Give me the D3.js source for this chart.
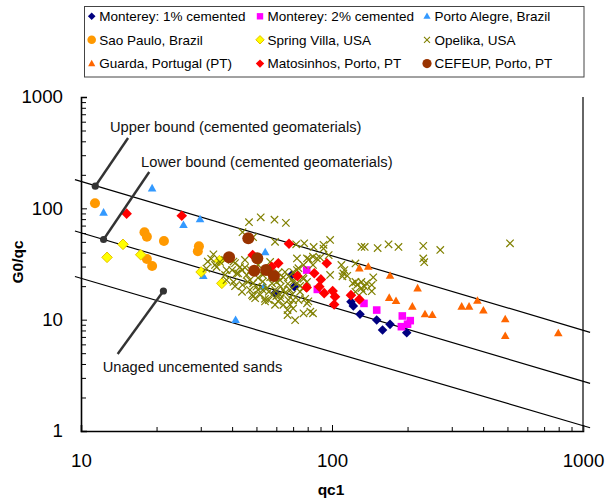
<!DOCTYPE html>
<html><head><meta charset="utf-8">
<script src="https://cdn.jsdelivr.net/npm/d3@7"></script>
<style>
body{margin:0;background:#fff;}
svg{font-family:"Liberation Sans",Arial,sans-serif;}
</style></head>
<body><svg id="c" width="606" height="501"></svg>
<script>
// ---- data ----
const xTicks = [10, 100, 1000];
const yTicks = [1, 10, 100, 1000];
const seriesNames = ["Monterey: 1% cemented","Monterey: 2% cemented","Porto Alegre, Brazil",
  "Sao Paulo, Brazil","Spring Villa, USA","Opelika, USA",
  "Guarda, Portugal (PT)","Matosinhos, Porto, PT","CEFEUP, Porto, PT"];
const monterey1 = [[69.1,25.2],[70.8,19.8],[59.3,17.3],[119,14.5],[121.6,13.3],[129.3,11.2],[150.7,9.93],[159,8.07],[170.3,9.08],[198.5,7.64]];
const monterey2 = [[79.3,27.9],[87.4,18.7],[134.1,14.0],[150.7,12.2],[190.6,10.8],[205,9.8],[189,8.65],[200,9.1]];
const portoAlegre = [[12.3,91.5],[19.2,151],[25.6,70.8],[29.8,79.7],[30.7,24.7],[41.3,9.93],[54.2,40.3],[53.6,19.8]];
const saoPaulo = [[11.37,111],[17.9,61],[18.3,55.6],[21.4,50.9],[18.3,35.1],[19.2,30.3],[29.5,45.6],[29.2,41.1]];
const springVilla = [[12.7,36.3],[14.7,47.5],[17.3,38.3],[35.6,33.9],[30.1,26.8],[36.4,21.2]];
const opelika = [[46.7,75],[52,83],[59,79],[65.5,74],[44,61],[48.5,55],[59.3,50],[72,47.5],[77.5,48.5],[84.5,45],[92.5,47],[98.3,52],[92.5,43.5],[131,45],[135,45],[152,44],[168,47.5],[184,45],[231,46],[270,42.3],[231,35.5],[233,32.8],[512,48.5],[72.5,35.5],[79.5,35.5],[84,36.8],[89.7,36],[97,38],[109,31],[111,26],[110,24.5],[98.3,25.2],[124,32],[121,21.2],[126,20.5],[135,19.8],[144,20.5],[144,18],[133,18],[146,24],[124,21.8],[131,21.8],[112,27.9],[115,24.8],[82,11.8],[84,11.4],[71.3,9.9],[66.5,12.2],[33.7,38.6],[32,33.3],[34.2,31],[31.6,28.8],[33,35.2],[37.5,34.4],[41.1,32.2],[40,27.9],[43,29.7],[45,34.4],[42.3,26],[45.7,25.2],[38,22.7],[40.5,21.8],[44,20.5],[48.5,21.2],[50.7,18.5],[55,19.2],[57.7,16.7],[61,14.6],[64,13.6],[67,15],[62.5,19.8],[68.1,18.5],[74.6,17.8],[78.2,15.4],[51.7,16.7],[54.1,14.6],[47.1,18.5],[48,16.7],[43.8,17.8],[60.2,21.8],[56.7,24],[64,24],[65,26.8],[72.5,27.9],[76.5,24],[79.5,21.8],[70,21.8],[77,31],[81,34.8],[70,26.8],[73.5,29],[77,23.2],[72.5,21.2],[76.5,19.2],[73.5,15],[70,15],[80.5,14.6],[59.3,13.6],[62.5,15.5],[70,12.6],[77,11.4],[66.5,11],[54.1,15.4],[56,17.8],[64,18.5],[79.5,14],[38,27.9],[40.5,33.3],[41.7,26],[47.1,22.7],[50,19.8],[48.5,16.2],[43.8,27.9],[34.7,29.7],[137,21.2],[131,19.2],[124,17.8],[87,35.5],[84,31],[50.8,31],[53,25.2],[56.7,28.8],[61,26.3],[66.7,21],[59.3,18.5],[53,22],[47.5,27.9],[45,29.4],[37.5,25.2],[35.8,33],[62,16.7],[56,15],[69.5,16.9],
  [50.7,23.7],[54.1,26.8],[57.7,21.2],[62.1,22.7],[67.4,24.5],[71.3,23.7],[53,18.5],[60,16.3],[68.1,13.6],[46.2,21.8],[41.1,20],[56.7,33],[65,17.4],[74.6,20.1],[49.4,15.6]];
const guarda = [[128.5,28.9],[139.5,29.9],[170.3,24.8],[169,15.7],[179.9,14.7],[219.3,19.1],[209,13.1],[234.7,11.2],[251,11.0],[328.6,13.1],[351.6,13.1],[379.6,14.8],[401,12.1],[490,10.1],[490,7.13],[797,7.54]];
const matosinhos = [[15.2,89.6],[25.2,85.9],[48.3,38.1],[67.4,48.1],[61.1,32.1],[57.5,29.9],[72.8,24.7],[79.3,19.5],[85.0,26.1],[90.3,23.0],[89.0,19.8],[93.1,17.3],[95.3,32.1],[100.6,18.1],[102.8,16.1],[102,13.7],[119,16.6],[128.5,15.2]];
const cefeup = [[46.4,53.8],[38.9,36.3],[50.4,35.6],[49.0,27.5],[54.6,27.9],[58.7,24.7]];
// bound lines (end points)
const upperBound = [[9.46,181],[1067,7.7]];
const lowerBound = [[9.46,62.6],[1067,2.68]];
const unagedBound = [[9.46,24.4],[1067,1.07]];
// annotations: [dot, pointer end, text anchor]
const annotLabels = ["Upper bound (cemented geomaterials)","Lower bound (cemented geomaterials)","Unaged uncemented sands"];
const annotDots = [[11.4,158],[12.3,52.5],[21.3,18.1]];
const annotEnds = [[15.4,428],[18.7,212],[14.0,4.91]];
const annotText = [[13.05,485],[17.35,237],[12.2,3.41]];

// ---- layout ----
const svg = d3.select("#c");
const L = 81, R = 583, T = 97, B = 431;
const x = d3.scaleLog().domain([10,1000]).range([L,R]);
const y = d3.scaleLog().domain([1,1000]).range([B,T]);

const minorX = [], minorY = [];
[10,100].forEach(d => { for (let k=2;k<=9;k++) minorX.push(d*k); });
[1,10,100].forEach(d => { for (let k=2;k<=9;k++) minorY.push(d*k); });

// axes
const gx = svg.append("g").attr("transform",`translate(0,${B})`);
gx.call(d3.axisBottom(x).tickValues(minorX).tickSize(-4).tickFormat(""));
gx.select(".domain").remove();
const gx2 = svg.append("g").attr("transform",`translate(0,${B})`);
gx2.call(d3.axisBottom(x).tickValues(xTicks).tickSize(-6).tickPadding(22.7).tickFormat(d3.format("d")));
const gy = svg.append("g").attr("transform",`translate(${L},0)`);
gy.call(d3.axisLeft(y).tickValues(minorY).tickSize(-5).tickFormat(""));
gy.select(".domain").remove();
const gy2 = svg.append("g").attr("transform",`translate(${L},0)`);
gy2.call(d3.axisLeft(y).tickValues(yTicks).tickSize(-6).tickPadding(18).tickFormat(d3.format("d")));
svg.selectAll(".tick line").attr("stroke","#000").attr("stroke-width",1);
svg.selectAll(".domain").attr("stroke","#000").attr("stroke-width",1.6);
svg.selectAll(".tick text").attr("font-size","18.7px").attr("fill","#000")
  .attr("font-family","'Liberation Sans',Arial,sans-serif");
// right border
svg.append("line").attr("x1",R).attr("x2",R).attr("y1",T).attr("y2",B)
  .attr("stroke","#333").attr("stroke-width",1.5);

// axis titles
svg.append("text").attr("x",331).attr("y",495).attr("text-anchor","middle")
  .attr("font-size","15.5px").attr("font-weight","bold").text("qc1");
svg.append("text").attr("transform","translate(23,262) rotate(-90)").attr("text-anchor","middle")
  .attr("font-size","15.5px").attr("font-weight","bold").text("G0/qc");

// bound lines
const line = d3.line().x(d=>x(d[0])).y(d=>y(d[1]));
[upperBound, lowerBound, unagedBound].forEach(b => {
  svg.append("path").attr("d", line(b)).attr("fill","none").attr("stroke","#000").attr("stroke-width",1.2);
});

// marker shapes
function diamond(r){ return `M0,${-r}L${r},0L0,${r}L${-r},0Z`; }
function tri(w,h){ return `M0,${-h*0.6}L${w/2},${h*0.4}L${-w/2},${h*0.4}Z`; }
function square(s){ return `M${-s/2},${-s/2}h${s}v${s}h${-s}Z`; }
function cross(s){ return `M${-s},${-s}L${s},${s}M${-s},${s}L${s},${-s}`; }

const styles = [
  {data:monterey1, kind:"path", d:diamond(4.8), ld:diamond(3.8), fill:"#000080"},
  {data:monterey2, kind:"path", d:square(7.6), ld:square(6.4), fill:"#ff00ff"},
  {data:portoAlegre, kind:"path", d:tri(8.6,7.6), ld:tri(7.2,6.4), fill:"#3399ff"},
  {data:saoPaulo, kind:"circle", r:5, lr:4.3, fill:"#ff9900"},
  {data:springVilla, kind:"path", d:diamond(5.3), ld:diamond(4.2), fill:"#ffff00", stroke:"#e6c200"},
  {data:opelika, kind:"cross", d:cross(3.7), ld:cross(3), stroke:"#808000"},
  {data:guarda, kind:"path", d:tri(8.6,7.6), ld:tri(7.2,6.4), fill:"#ff6600"},
  {data:matosinhos, kind:"path", d:diamond(5.3), ld:diamond(4.2), fill:"#ff0000"},
  {data:cefeup, kind:"circle", r:6, lr:4.6, fill:"#993300"}
];

const gm = svg.append("g");
styles.forEach(s => {
  const g = gm.append("g");
  const sel = g.selectAll("x").data(s.data).enter();
  if (s.kind === "circle") {
    sel.append("circle").attr("cx",d=>x(d[0])).attr("cy",d=>y(d[1])).attr("r",s.r).attr("fill",s.fill);
  } else if (s.kind === "cross") {
    sel.append("path").attr("transform",d=>`translate(${x(d[0])},${y(d[1])})`).attr("d",s.d)
      .attr("fill","none").attr("stroke",s.stroke).attr("stroke-width",1.2);
  } else {
    sel.append("path").attr("transform",d=>`translate(${x(d[0])},${y(d[1])})`).attr("d",s.d)
      .attr("fill",s.fill).attr("stroke",s.stroke||"none").attr("stroke-width",1);
  }
});

// annotations
const ga = svg.append("g");
annotLabels.forEach((t,i) => {
  ga.append("line").attr("x1",x(annotDots[i][0])).attr("y1",y(annotDots[i][1]))
    .attr("x2",x(annotEnds[i][0])).attr("y2",y(annotEnds[i][1]))
    .attr("stroke","#333").attr("stroke-width",2.4);
  ga.append("circle").attr("cx",x(annotDots[i][0])).attr("cy",y(annotDots[i][1])).attr("r",3.6).attr("fill","#333");
  ga.append("text").attr("x",x(annotText[i][0])).attr("y",y(annotText[i][1]))
    .attr("font-size","14.7px").attr("fill","#111").text(t);
});

// legend
const lg = svg.append("g");
lg.append("rect").attr("x",84.5).attr("y",6.5).attr("width",499.5).attr("height",70.5)
  .attr("fill","#fff").attr("stroke","#444").attr("stroke-width",1);
const colX = [91.7, 260, 427];
const rowY = [16.3, 39.8, 63.6];
styles.forEach((s,i) => {
  const cx = colX[i%3], cy = rowY[Math.floor(i/3)];
  if (s.kind === "circle") {
    lg.append("circle").attr("cx",cx).attr("cy",cy).attr("r",s.lr).attr("fill",s.fill);
  } else if (s.kind === "cross") {
    lg.append("path").attr("transform",`translate(${cx},${cy})`).attr("d",s.ld)
      .attr("fill","none").attr("stroke",s.stroke).attr("stroke-width",1.1);
  } else {
    lg.append("path").attr("transform",`translate(${cx},${cy})`).attr("d",s.ld)
      .attr("fill",s.fill).attr("stroke",s.stroke||"none");
  }
  lg.append("text").attr("x",cx+7.6).attr("y",cy+4.8).attr("font-size","13.5px").attr("fill","#000")
    .text(seriesNames[i]);
});
</script></body></html>
